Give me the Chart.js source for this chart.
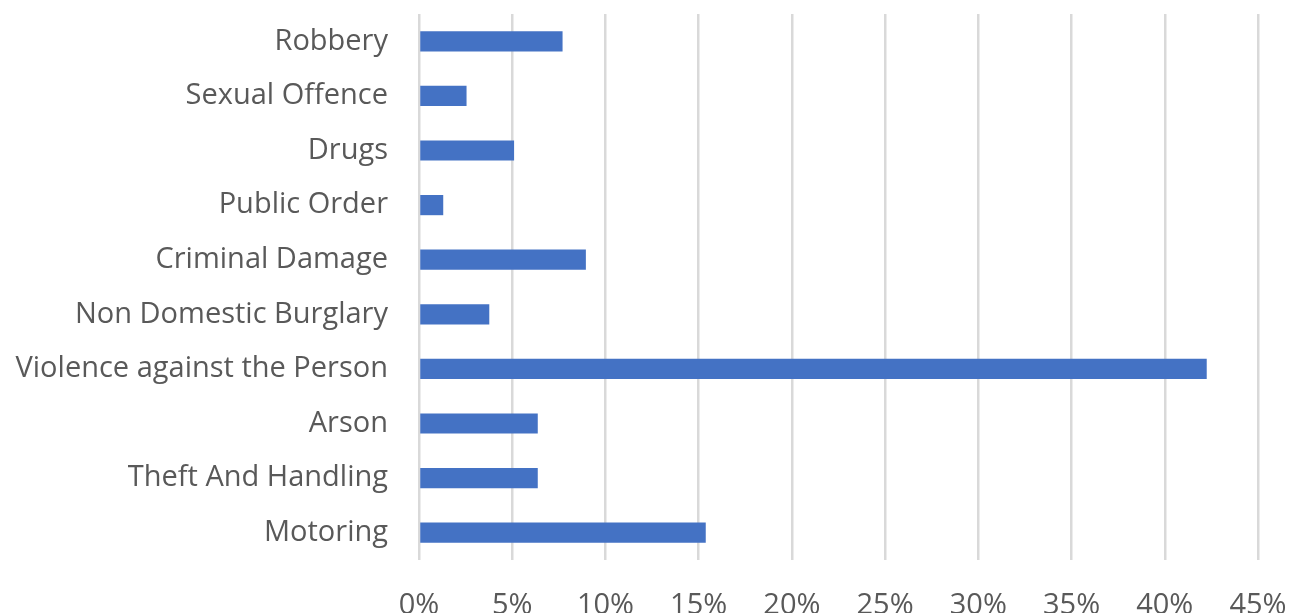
<!DOCTYPE html>
<html>
<head>
<meta charset="utf-8">
<script src="https://cdn.jsdelivr.net/npm/chart.js@4/dist/chart.umd.min.js"></script>
<style>
  html, body { margin: 0; padding: 0; background: #fff; overflow: hidden; }
  #wrap { width: 1290px; height: 613px; }
</style>
</head>
<body>
<div id="wrap"><canvas id="offence-chart" width="1290" height="613"></canvas></div>
<script>
const offenceLabels = [
    "Robbery", "Sexual Offence", "Drugs", "Public Order", "Criminal Damage",
    "Non Domestic Burglary", "Violence against the Person", "Arson",
    "Theft And Handling", "Motoring"
];
const offenceShares = [7.7, 2.55, 5.1, 1.3, 8.95, 3.77, 42.25, 6.37, 6.37, 15.38];
const tickSteps = [0, 5, 10, 15, 20, 25, 30, 35, 40, 45];

const labelFont = { family: "'Open Sans', sans-serif", size: 29 };
const textGrey = "#595959";

// drop the extra room Chart.js keeps for half-labels at the axis ends
const noEdgePadding = (scale) => {
    scale.paddingTop = 0;
    scale.paddingBottom = 0;
    scale.paddingLeft = 0;
    scale.paddingRight = 0;
};

document.addEventListener("DOMContentLoaded", () => {
    const canvas = document.getElementById("offence-chart");

    new Chart(canvas, {
        type: "bar",
        data: {
            labels: offenceLabels,
            datasets: [
                {
                    data: offenceShares,
                    backgroundColor: "#4472c4",
                    borderWidth: 0,
                    categoryPercentage: 1,
                    barPercentage: 0.37,
                },
            ],
        },
        options: {
            indexAxis: "y",
            responsive: false,
            animation: false,
            layout: { padding: { top: 14, right: 32, left: 0, bottom: 0 } },
            plugins: { legend: { display: false }, tooltip: { enabled: false } },
            scales: {
                x: {
                    min: 0,
                    max: 45,
                    afterBuildTicks: (scale) => {
                        scale.ticks = tickSteps.map((v) => ({ value: v }));
                    },
                    afterFit: (scale) => {
                        scale.height = 53;
                        noEdgePadding(scale);
                    },
                    border: { display: false },
                    grid: { color: "#d9d9d9", lineWidth: 2.5, drawTicks: false },
                    ticks: {
                        padding: 28,
                        color: textGrey,
                        font: labelFont,
                        maxRotation: 0,
                        callback: (v) => v + "%",
                    },
                },
                y: {
                    afterFit: (scale) => {
                        scale.width = 419;
                        noEdgePadding(scale);
                    },
                    border: { display: false },
                    grid: { display: false },
                    ticks: { padding: 23, color: textGrey, font: labelFont },
                },
            },
        },
    });
});
</script>
</body>
</html>
